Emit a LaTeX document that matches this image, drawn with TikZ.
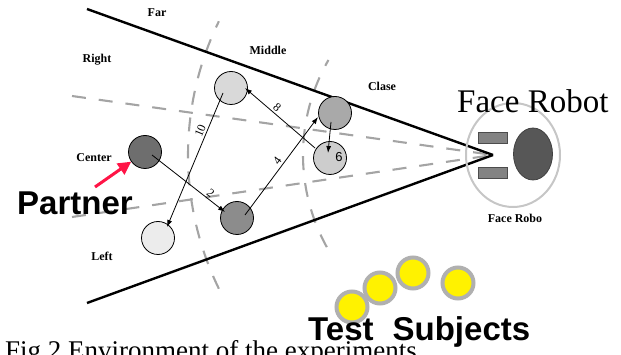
\documentclass[tikz,border=0pt]{standalone}
\usepackage{fontspec}
\setmainfont{Liberation Serif}
\newfontfamily\sansfont{Liberation Sans}
\usetikzlibrary{arrows.meta,calc,shapes.geometric}
\definecolor{zonegray}{HTML}{A4A4A4}
\definecolor{ringgray}{HTML}{C6C6C6}
\definecolor{subjgray}{HTML}{B0B0B0}
\definecolor{cA}{HTML}{6E6E6E}
\definecolor{cB}{HTML}{D9D9D9}
\definecolor{cC}{HTML}{A9A9A9}
\definecolor{cD}{HTML}{CDCDCD}
\definecolor{cE}{HTML}{8C8C8C}
\definecolor{cF}{HTML}{ECECEC}
\definecolor{facegray}{HTML}{575757}
\definecolor{eyegray}{HTML}{838383}
\definecolor{partnerred}{HTML}{FF1446}
\begin{document}
\begin{tikzpicture}[x=1pt,y=-1pt,
  cone/.style={line width=2.4pt,black},
  zone/.style={zonegray,line width=2.1pt,dash pattern=on 14pt off 13pt},
  person/.style={circle,draw=black,line width=0.8pt,minimum size=33pt,inner sep=0pt},
  move/.style={-{Latex[length=7pt,width=5pt]},line width=0.8pt},
  area/.style={inner sep=0pt,font=\bfseries\fontsize{12}{12}\selectfont},
  num/.style={font=\fontsize{12}{12}\selectfont,sloped,inner sep=2pt},
  subj/.style={circle,draw=subjgray,line width=4pt,fill=yellow,minimum size=31pt,inner sep=0pt},
  big/.style={anchor=base west,inner sep=0pt}
]
\useasboundingbox (0,0) rectangle (621,355);
\clip (0,0) rectangle (621,355);

\coordinate (apex) at (493,155);
\coordinate (ctop) at (87,9);
\coordinate (cbot) at (87,303);
\coordinate (dtop) at (72,96);
\coordinate (dbot) at (72,217);

% zone boundaries
\draw[zone] (dtop) -- (apex);
\draw[zone] (dbot) -- (apex);
\draw[zone] plot[domain=154:206,samples=50] ({493+305*cos(\x)},{155+305*sin(\x)});
\draw[zone] plot[domain=151:210,samples=50] ({493+190*cos(\x)},{155+190*sin(\x)});

% cone
\draw[cone] (ctop) -- (apex);
\draw[cone] (cbot) -- (apex);

% face robot
\node[ellipse,draw=ringgray,line width=2pt,minimum width=94pt,minimum height=104pt,inner sep=0pt] (ring) at (513,155) {};
\node[ellipse,draw=black!75,fill=facegray,line width=0.8pt,minimum width=39pt,minimum height=52pt,inner sep=0pt] (face) at (533,154) {};
\node[rectangle,draw=black!70,fill=eyegray,line width=0.8pt,minimum width=29pt,minimum height=11pt,inner sep=0pt] (eye1) at (492.5,137.5) {};
\node[rectangle,draw=black!70,fill=eyegray,line width=0.8pt,minimum width=29pt,minimum height=11pt,inner sep=0pt] (eye2) at (492.5,172.5) {};

% area labels
\node[area] (far) at (157,13) {Far};
\node[area] (right) at (97,60) {Right};
\node[area] (middle) at (268,50) {Middle};
\node[area] (close) at (382,86) {Clase};
\node[area] (center) at (94,158) {Center};
\node[area] (left) at (102,256) {Left};
\node[area] (robo) at (515,218) {Face Robo};

% people positions
\node[person,fill=cA] (ctr) at (145,152) {};
\node[person,fill=cB] (um) at (231,88) {};
\node[person,fill=cC] (cu) at (335,113) {};
\node[person,fill=cD] (six) at (330,158) {};
\node[person,fill=cE] (ld) at (237,218) {};
\node[person,fill=cF] (lb) at (158,238) {};

% moves
\draw[move] ([xshift=7pt,yshift=-3pt]ctr.center) -- node[num,pos=0.75,above]{2} ([xshift=-12pt,yshift=6pt]ld.center);
\draw[move] ([xshift=8pt,yshift=3pt]ld.center) -- node[num,pos=0.51,above]{4} ([xshift=-17pt,yshift=-4pt]cu.center);
\draw[move] ([xshift=-15pt,yshift=10pt]six.center) -- node[num,pos=0.6,above]{8} ([xshift=14pt]um.center);
\draw[move] ([xshift=-8pt,yshift=-5pt]um.center) -- node[num,pos=0.3,above]{10} ([xshift=9pt,yshift=11pt]lb.center);
\draw[move] ([xshift=-4pt,yshift=-9pt]cu.center) -- ([xshift=-2pt,yshift=5pt]six.center);
\node[font=\sansfont\fontsize{13}{13}\selectfont,inner sep=0pt] (l6) at (339,157) {6};

% partner
\coordinate (ptail) at (95,187);
\draw[-{Triangle[length=13pt,width=13pt]},line width=3pt,partnerred] (ptail) -- (ctr);
\node[big,font=\sansfont\bfseries\fontsize{33}{33}\selectfont] (partner) at (17,215) {Partner};

% test subjects
\node[subj] (s1) at (352,307) {};
\node[subj] (s2) at (380,288) {};
\node[subj] (s3) at (413,273) {};
\node[subj] (s4) at (458,283) {};

\node[big,font=\fontsize{27}{27}\selectfont] (cap) at (5,359) {Fig.2 Environment of the experiments};
\node[big,font=\sansfont\bfseries\fontsize{33}{33}\selectfont] (test) at (308,340) {Test\hspace{0.3em} Subjects};
\node[big,font=\fontsize{33}{33}\selectfont] (fr) at (457,113) {Face Robot};
\end{tikzpicture}
\end{document}
